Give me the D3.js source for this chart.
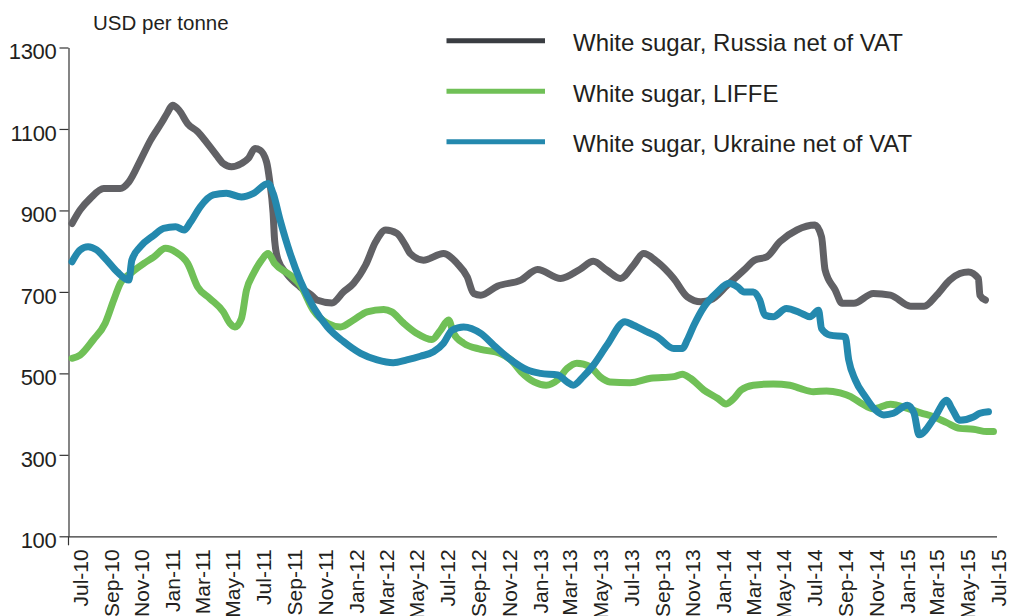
<!DOCTYPE html>
<html>
<head>
<meta charset="utf-8">
<script src="https://cdn.jsdelivr.net/npm/d3@7/dist/d3.min.js"></script>
<style>
  html, body { margin: 0; padding: 0; background: #fff; }
  svg { display: block; font-family: "Liberation Sans", Arial, Helvetica, sans-serif; }
</style>
</head>
<body>
<svg id="chart" width="1009" height="616"></svg>
<script>
// ---- Data (USD per tonne) ----
const seriesNames = ["White sugar, Russia net of VAT", "White sugar, LIFFE", "White sugar, Ukraine net of VAT"];

const russia = [
["2010-06-16",868],["2010-07-02",901],["2010-07-22",929],["2010-08-18",954],["2010-09-20",954],["2010-10-07",970],
["2010-10-30",1023],["2010-11-19",1072],["2010-12-12",1117],["2010-12-22",1138],["2011-01-02",1158],["2011-01-15",1146],
["2011-02-01",1113],["2011-02-21",1093],["2011-03-10",1068],["2011-03-30",1036],["2011-04-13",1015],["2011-04-29",1007],
["2011-05-19",1015],["2011-06-02",1028],["2011-06-15",1052],["2011-06-25",1048],["2011-07-08",1019],["2011-07-14",974],
["2011-07-21",893],["2011-07-24",827],["2011-07-31",778],["2011-08-17",745],["2011-09-13",712],["2011-10-09",688],
["2011-10-16",680],["2011-11-15",673],["2011-12-08",700],["2011-12-28",721],["2012-01-21",766],["2012-02-10",823],
["2012-03-01",852],["2012-03-23",844],["2012-04-09",815],["2012-04-19",794],["2012-05-15",778],["2012-06-24",794],
["2012-07-21",770],["2012-08-10",737],["2012-08-23",696],["2012-09-06",692],["2012-10-09",714],["2012-11-25",729],
["2012-12-28",755],["2013-02-12",733],["2013-03-22",755],["2013-04-18",775],["2013-05-15",753],["2013-06-11",733],
["2013-07-07",766],["2013-07-27",794],["2013-08-23",774],["2013-09-25",733],["2013-10-22",688],["2013-11-18",676],
["2013-12-07",680],["2014-01-10",717],["2014-02-12",754],["2014-03-05",778],["2014-03-29",786],["2014-04-24",823],
["2014-05-28",852],["2014-07-03",864],["2014-07-16",835],["2014-07-23",754],["2014-08-12",705],["2014-08-26",672],
["2014-09-18",672],["2014-10-27",696],["2014-11-30",692],["2015-01-09",665],["2015-02-05",665],["2015-03-02",692],
["2015-03-28",729],["2015-04-17",745],["2015-05-04",749],["2015-05-24",733],["2015-05-27",692],["2015-06-07",680]
];

const liffe = [
["2010-06-16",537],["2010-07-02",545],["2010-07-28",582],["2010-08-21",623],["2010-09-07",680],["2010-09-20",721],
["2010-10-10",745],["2010-11-06",770],["2010-11-26",786],["2010-12-19",807],["2011-01-08",798],["2011-02-01",770],
["2011-02-21",712],["2011-03-17",684],["2011-04-13",651],["2011-04-26",623],["2011-05-06",614],["2011-05-19",635],
["2011-05-29",704],["2011-06-12",745],["2011-06-28",778],["2011-07-11",794],["2011-07-24",770],["2011-08-24",741],
["2011-09-13",717],["2011-10-09",655],["2011-11-06",623],["2011-12-02",614],["2011-12-28",631],["2012-01-24",651],
["2012-02-26",657],["2012-03-13",651],["2012-04-06",623],["2012-05-02",598],["2012-06-01",583],["2012-06-18",606],
["2012-07-04",631],["2012-07-14",598],["2012-08-03",574],["2012-09-06",559],["2012-10-15",549],["2012-11-05",533],
["2012-11-25",504],["2012-12-21",479],["2013-01-14",471],["2013-02-06",484],["2013-02-25",512],["2013-03-16",525],
["2013-04-12",516],["2013-05-01",492],["2013-05-21",479],["2013-06-30",477],["2013-08-10",488],["2013-09-25",492],
["2013-10-12",498],["2013-10-28",488],["2013-11-24",459],["2013-12-21",439],["2014-01-07",425],["2014-01-23",439],
["2014-02-06",459],["2014-03-02",471],["2014-04-11",474],["2014-05-14",471],["2014-06-03",463],["2014-06-30",455],
["2014-07-26",457],["2014-08-22",452],["2014-09-12",443],["2014-10-01",428],["2014-10-27",413],["2014-11-30",424],
["2015-01-03",414],["2015-01-29",403],["2015-02-25",393],["2015-03-22",379],["2015-04-17",365],["2015-05-14",363],
["2015-06-10",357],["2015-06-23",357]
];

const ukraine = [
["2010-06-16",774],["2010-07-02",803],["2010-07-18",811],["2010-08-04",803],["2010-08-24",778],["2010-09-14",749],
["2010-10-07",729],["2010-10-13",778],["2010-10-30",811],["2010-11-26",839],["2010-12-15",856],["2011-01-08",860],
["2011-01-25",852],["2011-02-07",872],["2011-02-26",909],["2011-03-24",938],["2011-04-19",942],["2011-05-19",933],
["2011-06-12",942],["2011-07-11",966],["2011-07-21",942],["2011-08-04",876],["2011-08-24",794],["2011-09-13",728],
["2011-10-09",663],["2011-11-06",614],["2011-12-08",578],["2012-01-11",549],["2012-02-13",533],["2012-03-16",526],
["2012-04-12",533],["2012-05-09",542],["2012-06-04",553],["2012-06-24",574],["2012-07-11",606],["2012-08-03",614],
["2012-09-06",598],["2012-10-02",569],["2012-11-05",533],["2012-12-08",508],["2013-01-03",500],["2013-02-06",496],
["2013-02-25",479],["2013-03-09",471],["2013-03-29",492],["2013-04-18",520],["2013-05-15",569],["2013-06-20",627],
["2013-07-07",618],["2013-08-03",602],["2013-08-23",590],["2013-09-25",561],["2013-10-12",561],["2013-10-22",582],
["2013-11-04",618],["2013-11-24",663],["2013-12-21",700],["2014-01-13",721],["2014-01-30",712],["2014-02-12",700],
["2014-03-02",700],["2014-03-15",680],["2014-03-25",643],["2014-04-11",639],["2014-05-07",659],["2014-06-03",649],
["2014-06-23",639],["2014-07-10",655],["2014-07-16",610],["2014-08-02",594],["2014-09-01",590],["2014-09-08",533],
["2014-09-21",484],["2014-10-11",443],["2014-10-31",410],["2014-11-17",398],["2014-12-06",402],["2015-01-03",422],
["2015-01-16",402],["2015-01-26",349],["2015-02-25",390],["2015-03-22",434],["2015-04-01",414],["2015-04-17",385],
["2015-05-14",393],["2015-05-27",402],["2015-06-13",406]
];

const xTickLabels = ["Jul-10","Sep-10","Nov-10","Jan-11","Mar-11","May-11","Jul-11","Sep-11","Nov-11","Jan-12","Mar-12",
  "May-12","Jul-12","Sep-12","Nov-12","Jan-13","Mar-13","May-13","Jul-13","Sep-13","Nov-13","Jan-14","Mar-14","May-14",
  "Jul-14","Sep-14","Nov-14","Jan-15","Mar-15","May-15","Jul-15"];
const yTicks = [100, 300, 500, 700, 900, 1100, 1300];
const yAxisTitle = "USD per tonne";

// ---- Setup ----
const colors = ["#616165", "#70c057", "#2489ae"];
const legendColors = ["#3a3d42", "#70c057", "#2489ae"];

const parseDate = d3.timeParse("%Y-%m-%d");
const parseTick = d3.timeParse("%b-%y");
const fmtTick = d3.timeFormat("%b-%y");

const svg = d3.select("#chart");

const x = d3.scaleTime()
  .domain([parseDate("2010-06-09"), parseDate("2015-06-29")])
  .range([68.5, 996.5]);
const y = d3.scaleLinear().domain([100, 1300]).range([536.3, 47.5]);

// Y axis
const yAxis = svg.append("g")
  .attr("transform", "translate(68.5,0)")
  .call(d3.axisLeft(y).tickValues(yTicks).tickFormat(d3.format("d")).tickSize(9).tickSizeOuter(0).tickPadding(3));
yAxis.select(".domain").attr("stroke", "#333").attr("stroke-width", 1.2);
yAxis.selectAll(".tick line").attr("stroke", "#333").attr("stroke-width", 1.2);
yAxis.selectAll(".tick text")
  .attr("font-size", "22px").attr("fill", "#231f20").attr("dy", "0.52em")
  .attr("font-family", "'Liberation Sans', Arial, sans-serif")
  .style("letter-spacing", "-0.3px");
// small extension of the vertical axis below the baseline
yAxis.append("line").attr("x1", 0).attr("x2", 0).attr("y1", y(100)).attr("y2", y(100) + 9)
  .attr("stroke", "#333").attr("stroke-width", 1.2);

// X axis
const xAxis = svg.append("g")
  .attr("transform", `translate(0,${y(100)})`)
  .call(d3.axisBottom(x).tickValues(xTickLabels.map(parseTick)).tickFormat(fmtTick).tickSize(0).tickSizeOuter(0));
xAxis.select(".domain").attr("stroke", "#333").attr("stroke-width", 1.2);
xAxis.selectAll(".tick text")
  .attr("font-size", "21px").attr("fill", "#231f20")
  .attr("font-family", "'Liberation Sans', Arial, sans-serif")
  .attr("transform", "rotate(-90)")
  .attr("text-anchor", "end")
  .attr("x", -13).attr("y", 0).attr("dy", "0.36em");

// Axis title
svg.append("text")
  .attr("x", 93).attr("y", 30)
  .attr("font-size", "20.5px").attr("fill", "#231f20")
  .text(yAxisTitle);

// Lines
const line = d3.line()
  .x(d => x(parseDate(d[0])))
  .y(d => y(d[1]))
  .curve(d3.curveMonotoneX);

[russia, liffe, ukraine].forEach((s, i) => {
  svg.append("path")
    .datum(s)
    .attr("d", line)
    .attr("fill", "none")
    .attr("stroke", colors[i])
    .attr("stroke-width", 7)
    .attr("stroke-linejoin", "round")
    .attr("stroke-linecap", "round");
});

// Legend
const legend = svg.append("g");
seriesNames.forEach((name, i) => {
  const cy = 40.7 + i * 50.5;
  legend.append("line")
    .attr("x1", 446.5).attr("x2", 545).attr("y1", cy).attr("y2", cy)
    .attr("stroke", legendColors[i]).attr("stroke-width", 5);
  legend.append("text")
    .attr("x", 573).attr("y", cy + 10.5)
    .attr("font-size", "24px").attr("fill", "#231f20")
    .text(name);
});
</script>
</body>
</html>
